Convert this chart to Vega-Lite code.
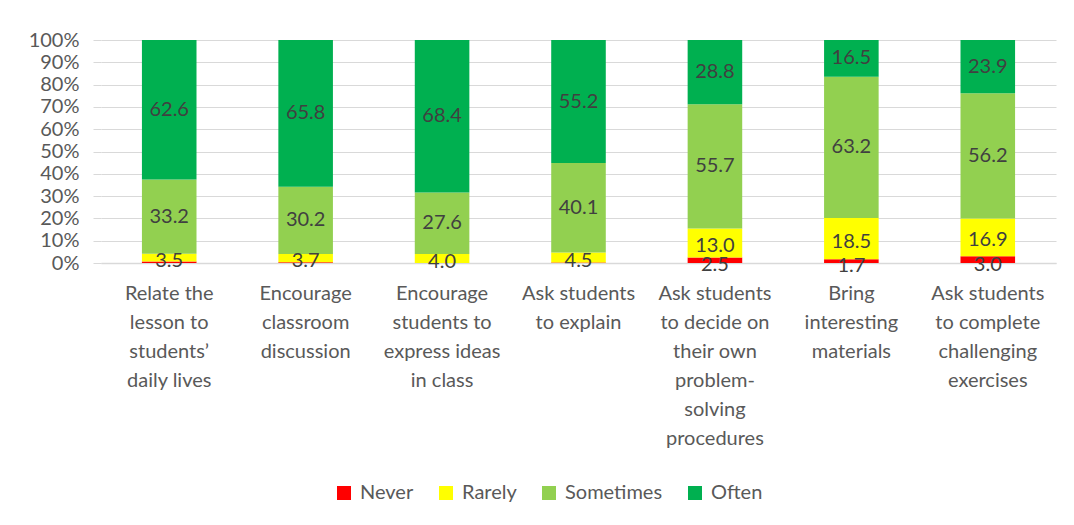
{
  "$schema": "https://vega.github.io/schema/vega-lite/v6.json",
  "width": 955,
  "height": 223,
  "autosize": {"type": "none"},
  "padding": {"left": 101, "top": 40, "right": 18, "bottom": 262},
  "background": "white",
  "data": {
    "values": [
      {"method": "Relate the|lesson to|students’|daily lives", "response": "Never", "rank": 1, "value": 0.7},
      {"method": "Relate the|lesson to|students’|daily lives", "response": "Rarely", "rank": 2, "value": 3.5},
      {"method": "Relate the|lesson to|students’|daily lives", "response": "Sometimes", "rank": 3, "value": 33.2},
      {"method": "Relate the|lesson to|students’|daily lives", "response": "Often", "rank": 4, "value": 62.6},
      {"method": "Encourage|classroom|discussion", "response": "Never", "rank": 1, "value": 0.3},
      {"method": "Encourage|classroom|discussion", "response": "Rarely", "rank": 2, "value": 3.7},
      {"method": "Encourage|classroom|discussion", "response": "Sometimes", "rank": 3, "value": 30.2},
      {"method": "Encourage|classroom|discussion", "response": "Often", "rank": 4, "value": 65.8},
      {"method": "Encourage|students to|express ideas|in class", "response": "Never", "rank": 1, "value": 0.0},
      {"method": "Encourage|students to|express ideas|in class", "response": "Rarely", "rank": 2, "value": 4.0},
      {"method": "Encourage|students to|express ideas|in class", "response": "Sometimes", "rank": 3, "value": 27.6},
      {"method": "Encourage|students to|express ideas|in class", "response": "Often", "rank": 4, "value": 68.4},
      {"method": "Ask students|to explain", "response": "Never", "rank": 1, "value": 0.2},
      {"method": "Ask students|to explain", "response": "Rarely", "rank": 2, "value": 4.5},
      {"method": "Ask students|to explain", "response": "Sometimes", "rank": 3, "value": 40.1},
      {"method": "Ask students|to explain", "response": "Often", "rank": 4, "value": 55.2},
      {"method": "Ask students|to decide on|their own|problem-|solving|procedures", "response": "Never", "rank": 1, "value": 2.5},
      {"method": "Ask students|to decide on|their own|problem-|solving|procedures", "response": "Rarely", "rank": 2, "value": 13.0},
      {"method": "Ask students|to decide on|their own|problem-|solving|procedures", "response": "Sometimes", "rank": 3, "value": 55.7},
      {"method": "Ask students|to decide on|their own|problem-|solving|procedures", "response": "Often", "rank": 4, "value": 28.8},
      {"method": "Bring|interesting|materials", "response": "Never", "rank": 1, "value": 1.7},
      {"method": "Bring|interesting|materials", "response": "Rarely", "rank": 2, "value": 18.5},
      {"method": "Bring|interesting|materials", "response": "Sometimes", "rank": 3, "value": 63.2},
      {"method": "Bring|interesting|materials", "response": "Often", "rank": 4, "value": 16.5},
      {"method": "Ask students|to complete|challenging|exercises", "response": "Never", "rank": 1, "value": 3.0},
      {"method": "Ask students|to complete|challenging|exercises", "response": "Rarely", "rank": 2, "value": 16.9},
      {"method": "Ask students|to complete|challenging|exercises", "response": "Sometimes", "rank": 3, "value": 56.2},
      {"method": "Ask students|to complete|challenging|exercises", "response": "Often", "rank": 4, "value": 23.9}
    ]
  },
  "encoding": {
    "x": {
      "field": "method",
      "type": "nominal",
      "sort": null,
      "scale": {"paddingInner": 0.6, "paddingOuter": 0.3},
      "axis": {
        "title": null,
        "labelAngle": 0,
        "labelExpr": "split(datum.label, '|')",
        "labelFont": "Lato",
        "labelFontSize": 20,
        "labelColor": "#595959",
        "labelLineHeight": 29,
        "labelBaseline": "top",
        "labelPadding": 20,
        "ticks": false,
        "domainColor": "#D9D9D9",
        "domainWidth": 1.5,
        "labelLimit": 200
      }
    },
    "y": {
      "field": "value",
      "type": "quantitative",
      "stack": "normalize",
      "scale": {"domain": [0, 1]},
      "axis": {
        "title": null,
        "format": "%",
        "values": [0, 0.1, 0.2, 0.3, 0.4, 0.5, 0.6, 0.7, 0.8, 0.9, 1],
        "labelFont": "Lato",
        "labelFontSize": 20,
        "labelColor": "#595959",
        "domain": false,
        "tickColor": "#D9D9D9",
        "tickSize": 8,
        "labelPadding": 14,
        "gridColor": "#D9D9D9",
        "gridWidth": 1
      }
    },
    "order": {"field": "rank", "type": "quantitative", "sort": "ascending"}
  },
  "layer": [
    {
      "mark": {"type": "bar"},
      "encoding": {
        "color": {
          "field": "response",
          "type": "nominal",
          "sort": ["Never", "Rarely", "Sometimes", "Often"],
          "scale": {
            "domain": ["Never", "Rarely", "Sometimes", "Often"],
            "range": ["#FF0000", "#FFFF00", "#92D050", "#00B050"]
          },
          "legend": {
            "title": null,
            "orient": "none",
            "legendX": 233,
            "legendY": 443,
            "direction": "horizontal",
            "symbolType": "square",
            "symbolSize": 196,
            "symbolStrokeWidth": 0,
            "symbolOpacity": 1,
            "labelFont": "Lato",
            "labelFontSize": 20,
            "labelColor": "#595959",
            "columnPadding": 22,
            "labelOffset": 6
          }
        }
      }
    },
    {
      "mark": {"type": "text", "font": "Lato", "fontSize": 20, "color": "#404040", "baseline": "middle"},
      "encoding": {
        "y": {"field": "value", "type": "quantitative", "stack": "normalize", "bandPosition": 0.5},
        "text": {"field": "value", "type": "quantitative", "format": ".1f"},
        "opacity": {
          "condition": {"test": "datum.response != 'Never' && datum.response != 'Rarely'", "value": 1},
          "value": 0
        }
      }
    },
    {
      "mark": {"type": "text", "font": "Lato", "fontSize": 20, "color": "#404040", "baseline": "middle", "dy": 3},
      "encoding": {
        "y": {"field": "value", "type": "quantitative", "stack": "normalize", "bandPosition": 0.5},
        "text": {"field": "value", "type": "quantitative", "format": ".1f"},
        "opacity": {
          "condition": {"test": "datum.response == 'Rarely'", "value": 1},
          "value": 0
        }
      }
    },
    {
      "mark": {"type": "text", "font": "Lato", "fontSize": 20, "color": "#404040", "baseline": "middle", "dy": 5},
      "encoding": {
        "y": {"field": "value", "type": "quantitative", "stack": "normalize", "bandPosition": 0.5},
        "text": {"field": "value", "type": "quantitative", "format": ".1f"},
        "opacity": {
          "condition": {"test": "datum.response == 'Never' && datum.value >= 1", "value": 1},
          "value": 0
        }
      }
    }
  ],
  "config": {
    "view": {"stroke": null}
  }
}
